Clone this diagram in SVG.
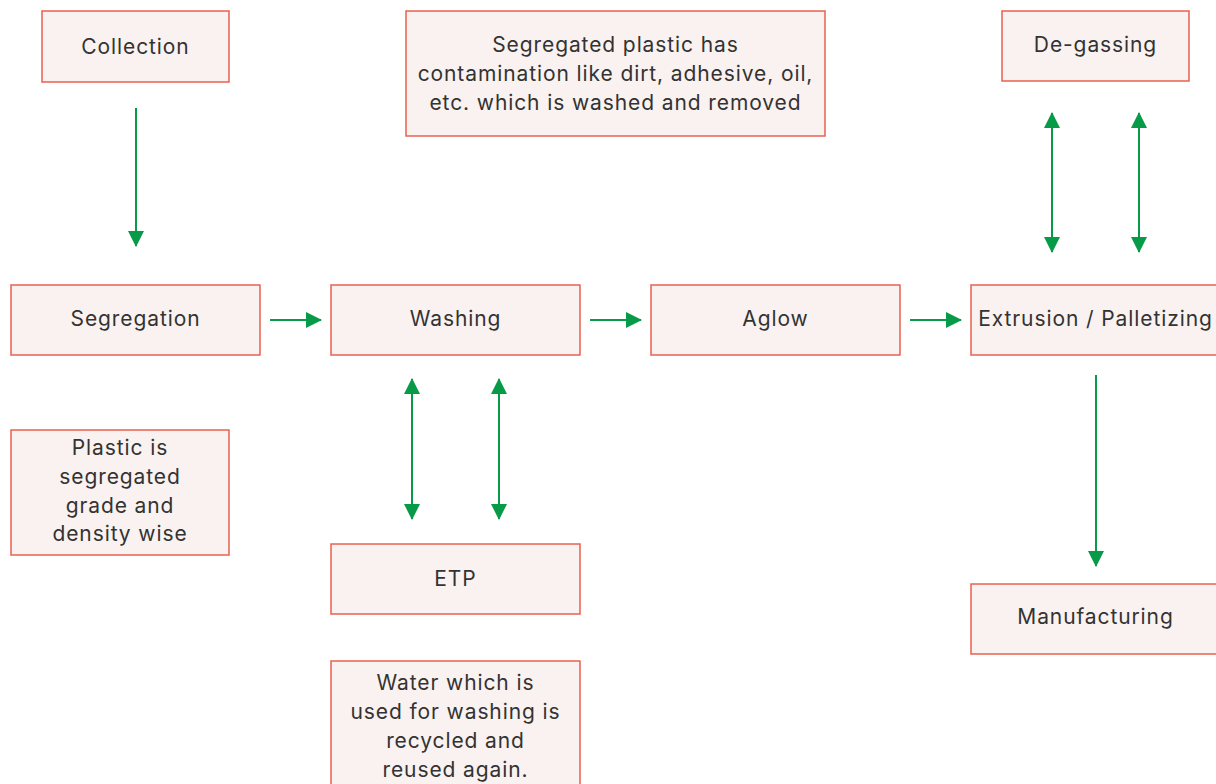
<svg xmlns="http://www.w3.org/2000/svg" width="1216" height="784" viewBox="0 0 1216 784">
<defs>
<style>
.box{fill:#faf2f0;stroke:#e9614f;stroke-width:1.5}
.t{font-family:"Inter","Noto Sans",sans-serif;font-size:21px;letter-spacing:0.9px;fill:#333;text-anchor:middle}
.c{stroke:#079a47;stroke-width:2;fill:none}
</style>
<marker id="a" markerWidth="16" markerHeight="16" refX="15" refY="8" orient="auto-start-reverse" markerUnits="userSpaceOnUse" viewBox="0 0 16 16">
<path d="M0,0 L16,8 L0,16 z" fill="#079a47"/>
</marker>
</defs>
<rect width="1216" height="784" fill="#fff"/>
<g id="collection"><rect class="box" x="42" y="11" width="187" height="71"/><text class="t" x="135.5" y="54">Collection</text></g>
<g id="note-washing"><rect class="box" x="406" y="11" width="419" height="125"/>
<text class="t" x="615.5" y="52">Segregated plastic has</text>
<text class="t" x="615.5" y="81">contamination like dirt, adhesive, oil,</text>
<text class="t" x="615.5" y="110">etc. which is washed and removed</text></g>
<g id="degassing"><rect class="box" x="1002" y="11" width="187" height="70"/><text class="t" x="1095.5" y="52">De-gassing</text></g>
<g id="segregation"><rect class="box" x="11" y="285" width="249" height="70"/><text class="t" x="135.5" y="326">Segregation</text></g>
<g id="washing"><rect class="box" x="331" y="285" width="249" height="70"/><text class="t" x="455.5" y="326">Washing</text></g>
<g id="aglow"><rect class="box" x="651" y="285" width="249" height="70"/><text class="t" x="775.5" y="326">Aglow</text></g>
<g id="extrusion"><rect class="box" x="971" y="285" width="260" height="70"/><text class="t" x="1095.5" y="326">Extrusion / Palletizing</text></g>
<g id="note-segregation"><rect class="box" x="11" y="430" width="218" height="125"/>
<text class="t" x="120" y="455">Plastic is</text>
<text class="t" x="120" y="484">segregated</text>
<text class="t" x="120" y="513">grade and</text>
<text class="t" x="120" y="541">density wise</text></g>
<g id="etp"><rect class="box" x="331" y="544" width="249" height="70"/><text class="t" x="455.5" y="586">ETP</text></g>
<g id="note-etp"><rect class="box" x="331" y="661" width="249" height="140"/>
<text class="t" x="455.5" y="690">Water which is</text>
<text class="t" x="455.5" y="719">used for washing is</text>
<text class="t" x="455.5" y="748">recycled and</text>
<text class="t" x="455.5" y="777">reused again.</text></g>
<g id="manufacturing"><rect class="box" x="971" y="584" width="260" height="70"/><text class="t" x="1095.5" y="624">Manufacturing</text></g>
<g id="connectors">
<line class="c" x1="136" y1="108" x2="136" y2="246" marker-end="url(#a)"/>
<line class="c" x1="270" y1="320" x2="321" y2="320" marker-end="url(#a)"/>
<line class="c" x1="590" y1="320" x2="641" y2="320" marker-end="url(#a)"/>
<line class="c" x1="910" y1="320" x2="961" y2="320" marker-end="url(#a)"/>
<line class="c" x1="412" y1="379" x2="412" y2="519" marker-start="url(#a)" marker-end="url(#a)"/>
<line class="c" x1="499" y1="379" x2="499" y2="519" marker-start="url(#a)" marker-end="url(#a)"/>
<line class="c" x1="1052" y1="113" x2="1052" y2="252" marker-start="url(#a)" marker-end="url(#a)"/>
<line class="c" x1="1139" y1="113" x2="1139" y2="252" marker-start="url(#a)" marker-end="url(#a)"/>
<line class="c" x1="1096" y1="375" x2="1096" y2="566" marker-end="url(#a)"/>
</g>
</svg>
